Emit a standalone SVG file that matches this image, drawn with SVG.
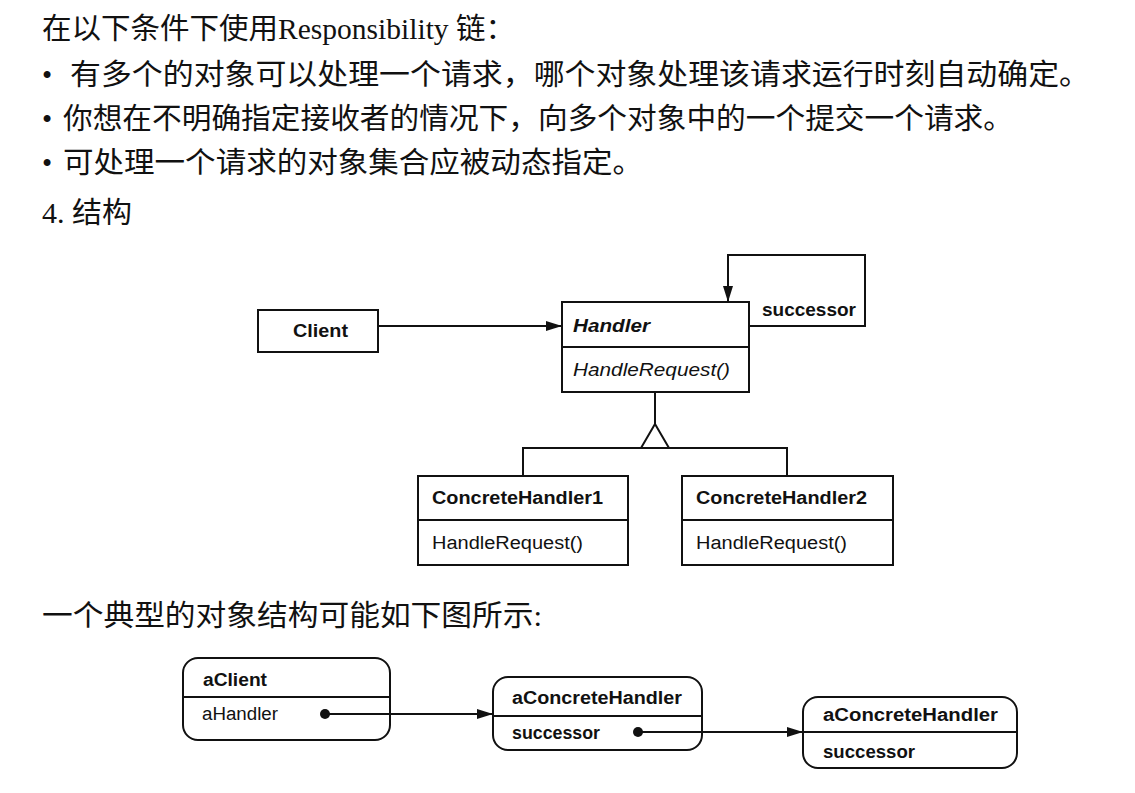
<svg xmlns="http://www.w3.org/2000/svg" width="1135" height="793" viewBox="0 0 1135 793">
<style>
.zh{font-family:"Liberation Serif","Noto Sans CJK SC",serif;font-size:29px;fill:#111}
.box{fill:#fff;stroke:#111;stroke-width:2}
.ln{fill:none;stroke:#111;stroke-width:2}
.b{font-family:"Liberation Sans",Arial,sans-serif;font-size:18px;font-weight:bold;fill:#111}
.r{font-family:"Liberation Sans",Arial,sans-serif;font-size:18px;fill:#111}
.bi{font-family:"Liberation Sans",Arial,sans-serif;font-size:18px;font-weight:bold;font-style:italic;fill:#111}
.i{font-family:"Liberation Sans",Arial,sans-serif;font-size:18px;font-style:italic;fill:#111}
</style>
<defs>
<marker id="arr" viewBox="0 0 16 10" refX="16" refY="5" markerWidth="16" markerHeight="10" markerUnits="userSpaceOnUse" orient="auto">
<path d="M0,0 L16,5 L0,10 Z" fill="#111"/>
</marker>
</defs>
<rect width="1135" height="793" fill="#fff"/>
<g id="text">
<text class="zh" x="42" y="39" textLength="473" lengthAdjust="spacingAndGlyphs">在以下条件下使用Responsibility 链：</text>
<text class="zh" x="42" y="85">•</text>
<text class="zh" x="70" y="85" textLength="1020" lengthAdjust="spacingAndGlyphs">有多个的对象可以处理一个请求，哪个对象处理该请求运行时刻自动确定。</text>
<text class="zh" x="42" y="129">•</text>
<text class="zh" x="63" y="129" textLength="950" lengthAdjust="spacingAndGlyphs">你想在不明确指定接收者的情况下，向多个对象中的一个提交一个请求。</text>
<text class="zh" x="42" y="173">•</text>
<text class="zh" x="63" y="173" textLength="580" lengthAdjust="spacingAndGlyphs">可处理一个请求的对象集合应被动态指定。</text>
<text class="zh" x="42" y="223" textLength="90" lengthAdjust="spacingAndGlyphs">4. 结构</text>
<text class="zh" x="42" y="626" textLength="500" lengthAdjust="spacingAndGlyphs">一个典型的对象结构可能如下图所示:</text>
</g>
<g id="client">
<rect class="box" x="258" y="310" width="120" height="42"/>
<text class="b" x="293" y="337" textLength="55" lengthAdjust="spacingAndGlyphs">Client</text>
</g>
<g id="handler">
<rect class="box" x="562" y="302" width="187" height="90"/>
<line class="ln" x1="562" y1="347" x2="749" y2="347"/>
<text class="bi" x="573" y="332" textLength="77" lengthAdjust="spacingAndGlyphs">Handler</text>
<text class="i" x="573" y="376" textLength="157" lengthAdjust="spacingAndGlyphs">HandleRequest()</text>
</g>
<g id="concreteHandler1">
<rect class="box" x="418" y="476" width="210" height="89"/>
<line class="ln" x1="418" y1="520" x2="628" y2="520"/>
<text class="b" x="432" y="504" textLength="171" lengthAdjust="spacingAndGlyphs">ConcreteHandler1</text>
<text class="r" x="432" y="549" textLength="151" lengthAdjust="spacingAndGlyphs">HandleRequest()</text>
</g>
<g id="concreteHandler2">
<rect class="box" x="682" y="476" width="211" height="89"/>
<line class="ln" x1="682" y1="520" x2="893" y2="520"/>
<text class="b" x="696" y="504" textLength="171" lengthAdjust="spacingAndGlyphs">ConcreteHandler2</text>
<text class="r" x="696" y="549" textLength="151" lengthAdjust="spacingAndGlyphs">HandleRequest()</text>
</g>
<g id="aClient">
<rect class="box" x="183" y="658" width="207" height="82" rx="15" ry="15"/>
<line class="ln" x1="183" y1="697" x2="390" y2="697"/>
<text class="b" x="203" y="686" textLength="64" lengthAdjust="spacingAndGlyphs">aClient</text>
<text class="r" x="202" y="720" textLength="76" lengthAdjust="spacingAndGlyphs">aHandler</text>
</g>
<g id="aConcreteHandler1">
<rect class="box" x="493" y="677" width="209" height="73" rx="15" ry="15"/>
<line class="ln" x1="493" y1="716" x2="702" y2="716"/>
<text class="b" x="512" y="704" textLength="170" lengthAdjust="spacingAndGlyphs">aConcreteHandler</text>
<text class="b" x="512" y="739" textLength="88" lengthAdjust="spacingAndGlyphs">successor</text>
</g>
<g id="aConcreteHandler2">
<rect class="box" x="803" y="697" width="214" height="71" rx="15" ry="15"/>
<line class="ln" x1="803" y1="732" x2="1017" y2="732"/>
<text class="b" x="823" y="721" textLength="175" lengthAdjust="spacingAndGlyphs">aConcreteHandler</text>
<text class="b" x="823" y="758" textLength="92" lengthAdjust="spacingAndGlyphs">successor</text>
</g>
<g id="connectors">
<line class="ln" x1="378" y1="326" x2="562" y2="326" marker-end="url(#arr)"/>
<polyline class="ln" points="749,326 865,326 865,255 728,255 728,302" marker-end="url(#arr)"/>
<text class="b" x="762" y="316" textLength="94" lengthAdjust="spacingAndGlyphs">successor</text>
<line class="ln" x1="655" y1="392" x2="655" y2="424"/>
<path d="M655,424 L641,448 L669,448 Z" fill="#fff" stroke="#111" stroke-width="2"/>
<polyline class="ln" points="523,476 523,448 787,448 787,476"/>
<line class="ln" x1="325" y1="714" x2="493" y2="714" marker-end="url(#arr)"/>
<circle cx="325" cy="714" r="5" fill="#111"/>
<line class="ln" x1="638" y1="732" x2="803" y2="732" marker-end="url(#arr)"/>
<circle cx="638" cy="732" r="5" fill="#111"/>
</g>
</svg>
